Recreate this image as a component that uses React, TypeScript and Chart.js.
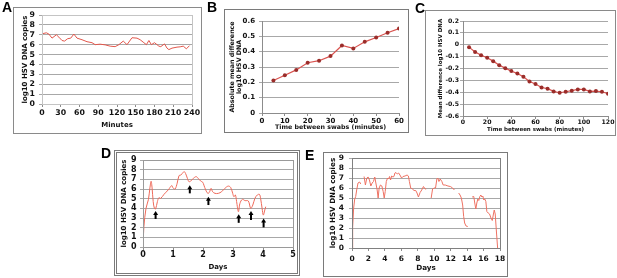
import React, { useEffect, useRef } from "react";
import { Chart, registerables } from "chart.js";
Chart.register(...registerables);

// ---------- DATA ----------
// Panel A: log10 HSV DNA copies vs minutes
const aMinutes = [0, 7, 11, 16, 23, 27, 32, 36, 41, 46, 51, 56, 64, 72, 80, 85, 93, 101, 109, 117, 123, 130, 136, 144, 152, 157, 163, 167, 171, 175, 180, 187, 190, 196, 200, 203, 208, 216, 221, 226, 231, 236];
const aLogCopies = [7.1, 7.2, 7.07, 6.66, 7.0, 6.76, 6.42, 6.36, 6.6, 6.66, 7.07, 6.66, 6.5, 6.3, 6.2, 6.0, 6.05, 5.98, 5.85, 5.8, 6.0, 6.36, 6.0, 6.7, 6.66, 6.5, 6.2, 6.0, 6.42, 6.0, 6.2, 5.85, 5.8, 6.08, 5.65, 5.5, 5.65, 5.75, 5.78, 5.85, 5.58, 5.9];

// Panel B: absolute mean difference vs time between swabs
const bGapMinutes = [5, 10, 15, 20, 25, 30, 35, 40, 45, 50, 55, 60];
const bAbsMeanDiff = [0.212, 0.246, 0.281, 0.328, 0.341, 0.371, 0.44, 0.421, 0.464, 0.492, 0.523, 0.551];

// Panel C: mean difference vs time between swabs
const cGapMinutes = [5, 10, 15, 20, 25, 30, 35, 40, 45, 50, 55, 60, 65, 70, 75, 80, 85, 90, 95, 100, 105, 110, 115, 120];
const cMeanDiff = [-0.02, -0.06, -0.088, -0.11, -0.138, -0.172, -0.197, -0.222, -0.242, -0.27, -0.31, -0.331, -0.36, -0.37, -0.393, -0.404, -0.396, -0.387, -0.376, -0.376, -0.393, -0.39, -0.396, -0.412];

// Panel D: log10 copies vs days, with arrows
const dDays = [0, 0.03, 0.1, 0.18, 0.23, 0.27, 0.3, 0.34, 0.38, 0.42, 0.48, 0.53, 0.59, 0.7, 0.84, 0.96, 1.01, 1.07, 1.14, 1.2, 1.26, 1.31, 1.37, 1.42, 1.48, 1.53, 1.59, 1.68, 1.77, 1.84, 1.92, 1.99, 2.03, 2.09, 2.16, 2.21, 2.27, 2.32, 2.4, 2.51, 2.62, 2.73, 2.84, 2.92, 2.99, 3.03, 3.08, 3.12, 3.18, 3.23, 3.31, 3.4, 3.51, 3.59, 3.66, 3.73, 3.81, 3.88, 3.92, 3.97, 4.01, 4.06, 4.09];
const dLogCopies = [0, 2.1, 4.0, 4.9, 6.1, 6.8, 6.2, 4.7, 4.0, 3.93, 4.7, 5.1, 5.03, 5.45, 5.9, 6.35, 6.07, 6.0, 6.6, 7.38, 7.45, 7.6, 7.8, 7.6, 7.1, 6.76, 6.83, 7.1, 7.28, 7.1, 6.83, 6.7, 6.4, 5.9, 5.55, 5.65, 6.07, 5.72, 5.55, 5.55, 5.72, 6.07, 6.3, 6.17, 5.55, 5.2, 5.38, 4.7, 3.65, 4.5, 4.93, 4.8, 4.76, 4.0, 4.34, 5.03, 5.38, 5.45, 5.03, 4.0, 3.3, 3.83, 4.17];
const dArrowDays = [0.42, 1.56, 2.18, 3.19, 3.6, 4.02];
const dArrowTips = [3.72, 6.4, 5.2, 3.38, 3.72, 2.96];
const dArrowTails = [2.9, 5.55, 4.34, 2.5, 2.8, 2.03];

// Panel E: log10 copies vs days (null = gap)
const eDays = [0, 0.08, 0.2, 0.33, 0.45, 0.57, 0.73, 0.93, 1.06, 1.2,
  1.47, 1.63, 1.8, 1.96, 2.12, 2.29, 2.45, 2.61, 2.77, 2.9, 3.06, 3.18, 3.3, 3.46, 3.63, 3.79, 3.92, 4.04, 4.17, 4.33, 4.45, 4.57, 4.69, 4.82, 4.98, 5.1, 5.22, 5.34, 5.51, 5.67, 5.83, 6.03, 6.2, 6.45, 6.7, 6.86, 6.98, 7.14, 7.35, 7.55, 7.75, 7.91, 8.08, 8.28, 8.48, 8.69, 8.9, 9.02, 9.3,
  9.63, 9.8, 10.0, 10.16, 10.32, 10.44, 10.57, 10.73, 10.93, 11.09, 11.34, 11.67, 11.96, 12.24, 12.45, 12.7,
  12.97, 13.14, 13.3, 13.46, 13.58, 13.7, 13.87, 14.08, 14.3,
  14.61, 14.81, 14.93, 15.06, 15.18, 15.3, 15.42, 15.55, 15.67, 15.79, 15.91, 16.03, 16.15, 16.28, 16.4, 16.56, 16.73, 16.9, 17.06, 17.18, 17.3, 17.42, 17.55, 17.71];
const eLogCopies = [0, 2.1, 4.0, 4.9, 5.15, 5.8, 6.5, 6.6, 6.4, null,
  7.15, 6.3, 7.0, 7.1, 6.8, 6.2, 6.5, 6.65, 7.1, 6.5, 5.8, 5.0, 6.0, 6.3, 6.2, 5.65, 5.0, 5.65, 6.65, 7.0, 6.9, 7.15, 6.8, 7.2, 7.1, 7.15, 7.5, 7.55, 7.4, 7.5, 7.3, 7.0, 7.15, 7.2, 7.3, 7.2, 6.65, 6.0, 5.9, 5.75, 5.75, 5.5, 5.1, 5.55, 5.8, 6.15, 5.9, 5.9, null,
  5.0, 5.9, 6.0, 6.0, 6.9, 7.0, 6.65, 6.9, 6.65, 6.3, 6.3, 6.2, 6.15, 6.0, 5.8, null,
  5.5, 5.3, 5.0, 4.3, 3.15, 2.5, 2.2, 2.15, null,
  5.1, 5.15, 4.5, 3.9, 4.5, 4.9, 4.75, 5.15, 5.3, 5.1, 5.2, 4.8, 4.9, 4.65, 3.65, 3.5, 3.4, 3.0, 2.75, 3.3, 3.8, 3.4, 1.8, 0];

const yTitleCopies = "log10 HSV DNA copies";
const xTitleMinutes = "Minutes";
const xTitleGap = "Time between swabs (minutes)";
const xTitleDays = "Days";
const yTitleB = ["Absolute mean difference", "log10 HSV DNA"];
const yTitleC = "Mean difference log10 HSV DNA";

// ---------- RENDERING ----------
const FONT = "'DejaVu Sans', Verdana, sans-serif";
const GRID = "#a8a8a8";
const AXIS = "#8c8c8c";

type Spec = {
  box: number[]; plot: number[];
  yTitleX: number; yTickRight: number; xTickY: number; xTitleY: number;
  tickSize: number; titleSize: number;
  yTitle: string | string[]; xTitle: string;
  x: [number, number, number]; y: [number, number, number];
  datasets: any[]; plotBorder?: string; arrows?: boolean; border: string;
  decimals?: boolean;
};

const pts = (xs: number[], ys: (number | null)[]) => xs.map((x, i) => ({ x, y: ys[i] }));

const specs: Spec[] = [
  {
    box: [13, 7, 189, 127], plot: [42, 15, 192, 104],
    yTitleX: 25, yTickRight: 35, xTickY: 113, xTitleY: 125.5,
    tickSize: 7.8, titleSize: 7, yTitle: yTitleCopies, xTitle: xTitleMinutes,
    x: [0, 240, 30], y: [0, 9, 1], plotBorder: "#c4c4c4", border: "1px solid #8a8a8a",
    datasets: [{ data: pts(aMinutes, aLogCopies), borderColor: "#E2574C", borderWidth: 1, pointRadius: 0, tension: 0 }],
  },
  {
    box: [224, 9, 185, 124], plot: [262, 21, 399, 113],
    yTitleX: 232, yTickRight: 255, xTickY: 120.7, xTitleY: 127.7,
    tickSize: 7, titleSize: 6.3, yTitle: yTitleB, xTitle: xTitleGap,
    x: [0, 60, 10], y: [0, 0.6, 0.1], border: "1px solid #7a7a7a", decimals: true,
    datasets: [{ data: pts(bGapMinutes, bAbsMeanDiff), borderColor: "#D9534F", borderWidth: 1.2, pointRadius: 2, pointBackgroundColor: "#9B2D2A", pointBorderColor: "#9B2D2A", pointBorderWidth: 0, tension: 0 }],
  },
  {
    box: [425, 10, 191, 126], plot: [463, 21, 608, 116],
    yTitleX: 440.7, yTickRight: 459, xTickY: 122.7, xTitleY: 129.3,
    tickSize: 6.2, titleSize: 5.5, yTitle: yTitleC, xTitle: xTitleGap,
    x: [0, 120, 20], y: [-0.6, 0.2, 0.1], border: "1px solid #8a8a8a", decimals: true,
    datasets: [{ data: pts(cGapMinutes, cMeanDiff), borderColor: "#D9534F", borderWidth: 1.2, pointRadius: 2, pointBackgroundColor: "#9B2D2A", pointBorderColor: "#9B2D2A", pointBorderWidth: 0, tension: 0 }],
  },
  {
    box: [114, 150, 186, 126], plot: [143, 160, 293, 247],
    yTitleX: 124.5, yTickRight: 136.5, xTickY: 255, xTitleY: 267.3,
    tickSize: 8, titleSize: 7, yTitle: yTitleCopies, xTitle: xTitleDays,
    x: [0, 5, 1], y: [0, 9, 1], plotBorder: "#9a9a9a", border: "3px double #7a7a7a", arrows: true,
    datasets: [{ data: pts(dDays, dLogCopies), borderColor: "#EE6A5A", borderWidth: 1, pointRadius: 0, tension: 0.35 }],
  },
  {
    box: [323, 152, 185, 125], plot: [352, 158, 500, 248],
    yTitleX: 333.3, yTickRight: 344, xTickY: 259, xTitleY: 268.3,
    tickSize: 7.5, titleSize: 7.2, yTitle: yTitleCopies, xTitle: xTitleDays,
    x: [0, 18, 2], y: [0, 9, 1], plotBorder: "#808080", border: "1px solid #7a7a7a",
    datasets: [{ data: pts(eDays, eLogCopies), borderColor: "#EE7263", borderWidth: 1, pointRadius: 0, tension: 0, spanGaps: false }],
  },
];

function Panel({ spec }: { spec: Spec }) {
  const ref = useRef<HTMLCanvasElement>(null);
  const [bx, by, bw, bh] = spec.box;
  useEffect(() => {
    const c = ref.current!;
    const [pl, pt, pr, pb] = spec.plot;
    const tickLH = spec.tickSize * 1.2;
    const titleLH = spec.titleSize * 1.2;
    const yTL = 3, xTL = 3;
    const yTickPad = pl - spec.yTickRight - yTL;
    const xTickPad = spec.xTickY - pb - xTL - tickLH / 2;
    const yTitlePadTop = spec.yTitleX - bx - titleLH / 2;
    const xTitlePadBottom = by + bh - spec.xTitleY - titleLH / 2;
    const Wy = pl - bx;
    const Hx = by + bh - pb;
    const tickFont = { family: FONT, size: spec.tickSize, weight: "bold" as const };
    const titleFont = { family: FONT, size: spec.titleSize, weight: "bold" as const };
    const fmt = (v: any) => (spec.decimals ? String(Number(Number(v).toFixed(1))) : String(v));

    const plugins: any[] = [];
    if (spec.plotBorder) {
      plugins.push({
        id: "plotBorder",
        afterDraw(chart: any) {
          const a = chart.chartArea;
          const ctx = chart.ctx;
          ctx.save();
          ctx.strokeStyle = spec.plotBorder;
          ctx.lineWidth = 1;
          ctx.strokeRect(Math.round(a.left) + 0.5, Math.round(a.top) + 0.5, Math.round(a.right - a.left), Math.round(a.bottom - a.top));
          ctx.restore();
        },
      });
    }
    if (spec.arrows) {
      plugins.push({
        id: "arrows",
        afterDatasetsDraw(chart: any) {
          const ctx = chart.ctx;
          const xs = chart.scales.x, ys = chart.scales.y;
          ctx.save();
          ctx.strokeStyle = "#000";
          ctx.fillStyle = "#000";
          dArrowDays.forEach((d, i) => {
            const x = xs.getPixelForValue(d);
            const yt = ys.getPixelForValue(dArrowTips[i]);
            const yb = ys.getPixelForValue(dArrowTails[i]);
            ctx.lineWidth = 2;
            ctx.beginPath();
            ctx.moveTo(x, yb);
            ctx.lineTo(x, yt + 3);
            ctx.stroke();
            ctx.beginPath();
            ctx.moveTo(x, yt);
            ctx.lineTo(x - 2.5, yt + 4);
            ctx.lineTo(x + 2.5, yt + 4);
            ctx.closePath();
            ctx.fill();
          });
          ctx.restore();
        },
      });
    }

    const chart = new Chart(c, {
      type: "line",
      data: { datasets: spec.datasets },
      options: {
        animation: false,
        responsive: false,
        maintainAspectRatio: false,
        layout: { padding: { left: 0, top: pt - by, right: bx + bw - pr, bottom: 0 } },
        plugins: { legend: { display: false }, tooltip: { enabled: false } },
        scales: {
          x: {
            type: "linear",
            min: spec.x[0], max: spec.x[1],
            ticks: { stepSize: spec.x[2], autoSkip: false, maxRotation: 0, minRotation: 0, padding: xTickPad, font: tickFont, color: "#111", callback: fmt },
            grid: { display: true, drawOnChartArea: false, drawTicks: true, tickLength: xTL, color: AXIS },
            border: { display: true, color: AXIS },
            title: { display: true, text: spec.xTitle, font: titleFont, color: "#111", padding: { top: 0, bottom: xTitlePadBottom } },
            afterFit: (s: any) => { s.height = Hx; s.paddingLeft = 0; s.paddingRight = 0; },
          },
          y: {
            type: "linear",
            min: spec.y[0], max: spec.y[1],
            ticks: { stepSize: spec.y[2], autoSkip: false, padding: yTickPad, font: tickFont, color: "#111", callback: fmt },
            grid: { display: true, drawOnChartArea: true, drawTicks: true, tickLength: yTL, color: GRID },
            border: { display: true, color: AXIS },
            title: { display: true, text: spec.yTitle, font: titleFont, color: "#111", padding: { top: yTitlePadTop, bottom: 0 } },
            afterFit: (s: any) => { s.width = Wy; s.paddingTop = 0; s.paddingBottom = 0; },
          },
        },
      } as any,
      plugins,
    });
    return () => chart.destroy();
  }, []);
  return (
    <>
      <canvas ref={ref} width={bw} height={bh} style={{ position: "absolute", left: bx, top: by, width: bw, height: bh }} />
      <div style={{ position: "absolute", left: bx, top: by, width: bw, height: bh, boxSizing: "border-box", border: spec.border, pointerEvents: "none" }} />
    </>
  );
}

const panelLetters = ["A", "B", "C", "D", "E"];
const letterPos = [[2, 0], [207, 0], [415, 1], [101, 146], [305, 148]];

export default function App() {
  return (
    <div style={{ position: "absolute", left: 0, top: 0, width: 617, height: 278, background: "#fff", overflow: "hidden" }}>
      {specs.map((s, i) => <Panel key={i} spec={s} />)}
      {panelLetters.map((l, i) => (
        <div key={l} style={{ position: "absolute", left: letterPos[i][0], top: letterPos[i][1], font: "bold 14px 'Liberation Sans', Arial, sans-serif", lineHeight: "14px", color: "#000" }}>{l}</div>
      ))}
    </div>
  );
}
